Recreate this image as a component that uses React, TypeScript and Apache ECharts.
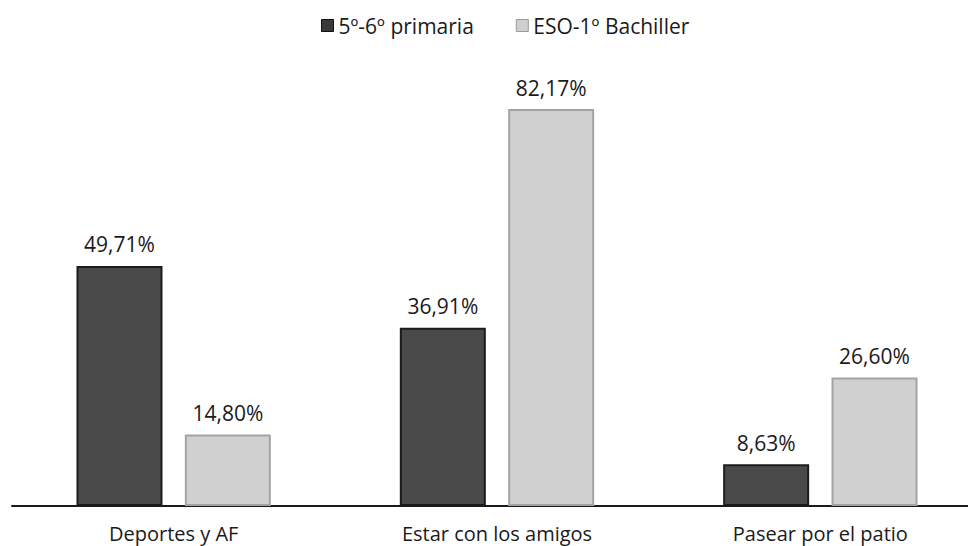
import React, { useEffect, useRef } from "react";
import * as echarts from "echarts";

const categories = ["Deportes y AF", "Estar con los amigos", "Pasear por el patio"];
const primaria = [49.71, 36.91, 8.63];
const eso = [14.8, 82.17, 26.6];
const seriesNames = ["5º-6º primaria", "ESO-1º Bachiller"];

const FONT = "'Open Sans', sans-serif";

const fmt = (v: number) => v.toFixed(2).replace(".", ",") + "%";

export default function App() {
  const ref = useRef<HTMLDivElement>(null);

  useEffect(() => {
    if (!ref.current) return;
    const chart = echarts.init(ref.current, null, { renderer: "svg" });
    const label = {
      show: true,
      position: "top" as const,
      distance: 11,
      color: "#1a1a1a",
      fontFamily: FONT,
      fontSize: 21,
      formatter: (p: any) => fmt(p.value),
    };
    chart.setOption({
      animation: false,
      backgroundColor: "#ffffff",
      legend: {
        top: 10,
        left: 316,
        itemWidth: 12,
        itemHeight: 12,
        itemGap: 42,
        icon: "rect",
        textStyle: { fontFamily: FONT, fontSize: 21, color: "#1a1a1a" },
        data: [
          { name: seriesNames[0], itemStyle: { color: "#3a3a3a", borderColor: "#111111", borderWidth: 1 } },
          { name: seriesNames[1], itemStyle: { color: "#cfcfcf", borderColor: "#9a9a9a", borderWidth: 1 } },
        ],
      },
      grid: { left: 12, width: 970, top: 23, bottom: 40, containLabel: false },
      xAxis: {
        type: "category",
        data: categories,
        axisLine: { lineStyle: { color: "#1a1a1a", width: 2 } },
        axisTick: { show: false },
        axisLabel: { fontFamily: FONT, fontSize: 20, color: "#1a1a1a", margin: 17 },
      },
      yAxis: { type: "value", min: 0, max: 100, show: false, splitLine: { show: false } },
      series: [
        {
          name: seriesNames[0],
          type: "bar",
          data: primaria,
          barWidth: 86,
          barGap: "26%",
          itemStyle: { color: "#4a4a4a", borderColor: "#1c1c1c", borderWidth: 2 },
          label,
        },
        {
          name: seriesNames[1],
          type: "bar",
          data: eso,
          barWidth: 86,
          barGap: "26%",
          itemStyle: { color: "#d0d0d0", borderColor: "#a3a3a3", borderWidth: 2 },
          label,
        },
      ],
    });
    return () => chart.dispose();
  }, []);

  return (
    <div style={{ position: "absolute", left: 0, top: 0, width: 968, height: 546, overflow: "hidden" }}>
      <div ref={ref} style={{ width: 1000, height: 546 }} />
    </div>
  );
}
